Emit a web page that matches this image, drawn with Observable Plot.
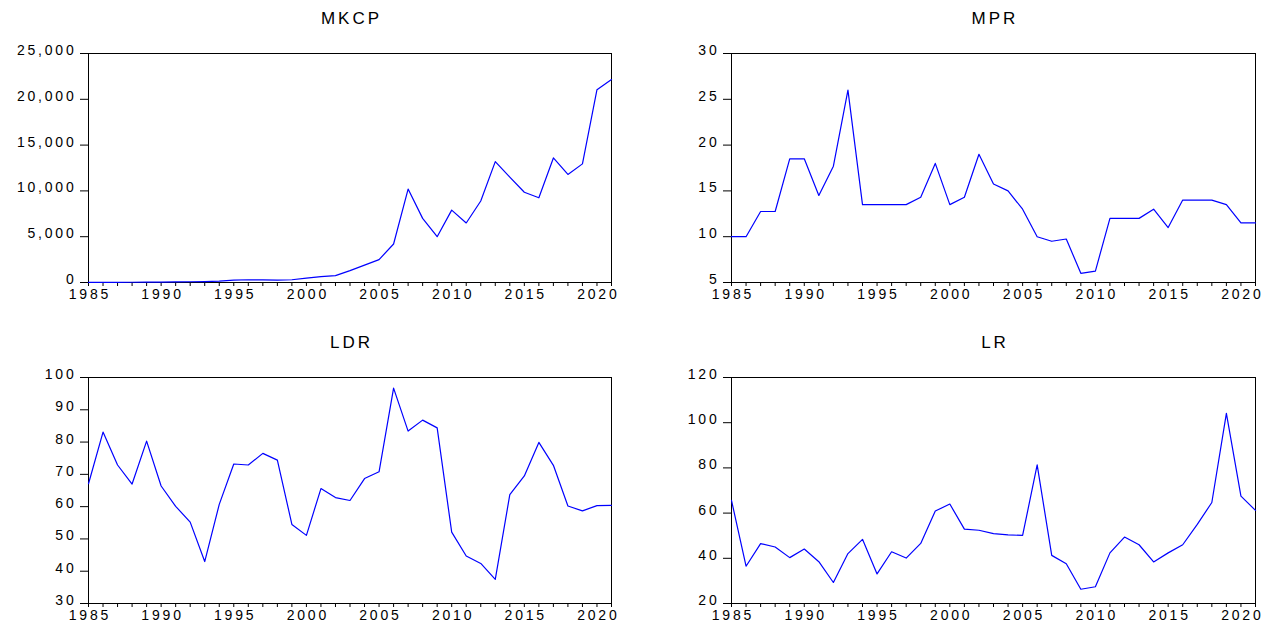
<!DOCTYPE html>
<html><head><meta charset="utf-8">
<script src="https://cdn.jsdelivr.net/npm/d3@7"></script>
<script src="https://cdn.jsdelivr.net/npm/@observablehq/plot@0.6"></script>
<style>
body{margin:0;background:#fff;}
#wrap{position:relative;width:1263px;height:626px;overflow:hidden;background:#fff;}
svg.panel{position:absolute;}
svg.panel text{letter-spacing:2.8px;}
svg.panel text.ttl{letter-spacing:3px;}
</style></head><body><div id="wrap"></div>
<script>
const years = [1985,1986,1987,1988,1989,1990,1991,1992,1993,1994,1995,1996,1997,1998,1999,2000,2001,2002,2003,2004,2005,2006,2007,2008,2009,2010,2011,2012,2013,2014,2015,2016,2017,2018,2019,2020,2021];
const xLabelYears = [1985,1990,1995,2000,2005,2010,2015,2020];

const mkcp = [10,15,20,25,40,50,60,80,100,140,250,300,290,270,300,480,650,750,1300,1900,2500,4200,10200,7000,5000,7900,6500,8900,13200,11500,9850,9250,13600,11800,12950,21050,22150];
const mpr  = [10,10,12.75,12.75,18.5,18.5,14.5,17.7,26,13.5,13.5,13.5,13.5,14.31,18,13.5,14.31,19,15.75,15,13,10,9.5,9.75,6,6.25,12,12,12,13,11,14,14,14,13.5,11.5,11.5];
const ldr  = [67.1,83.1,72.9,67,80.3,66.4,60.1,55.2,43,60.7,73.2,72.9,76.5,74.4,54.5,51.1,65.6,62.8,61.9,68.7,70.8,96.7,83.4,86.8,84.4,52.1,44.7,42.4,37.5,63.7,69.5,79.9,72.8,60.2,58.7,60.3,60.4];
const lr   = [65.6,36.5,46.5,45,40.3,44.1,38.5,29.3,42.1,48.4,33.1,42.9,40.1,46.6,60.9,64,52.9,52.4,50.9,50.4,50.1,81.3,41.3,37.6,26.3,27.4,42.4,49.4,46,38.4,42.4,46,55,64.7,104.1,67.5,61.2];

const titles = ["MKCP","MPR","LDR","LR"];
const mkcpTicks = [0,5000,10000,15000,20000,25000];
const mprTicks = [5,10,15,20,25,30];
const ldrTicks = [30,40,50,60,70,80,90,100];
const lrTicks = [20,40,60,80,100,120];

const wrap = document.getElementById("wrap");

function panel(title, values, yDomain, yTicks, yFormat, left, top, width, height, mL, mR, mT, mB) {
  const data = years.map((y, i) => ({year: y, value: values[i]}));
  const chart = Plot.plot({
    width, height,
    marginLeft: mL, marginRight: mR, marginTop: mT, marginBottom: mB,
    style: {fontFamily: "'Liberation Sans', Arial, sans-serif", fontSize: "14px", color: "#000", background: "#fff", overflow: "visible"},
    x: {domain: [1985, 2021]},
    y: {domain: yDomain},
    marks: [
      Plot.axisY({ticks: yTicks, tickSize: 8, tickFormat: () => "", label: null, stroke: "#000"}),
      Plot.axisY({ticks: yTicks, tickSize: 0, tickPadding: 12, tickFormat: yFormat, label: null, dy: -3}),
      Plot.axisX({ticks: years, tickSize: 4, tickFormat: () => "", label: null, stroke: "#000"}),
      Plot.axisX({ticks: xLabelYears, tickSize: 0, tickPadding: 7, tickFormat: d => String(d), label: null, dx: 1.4}),
      Plot.frame({stroke: "#000", strokeWidth: 1}),
      Plot.lineY(data, {x: "year", y: "value", stroke: "#0000ff", strokeWidth: 1.2}),
      Plot.text([title], {frameAnchor: "top", lineAnchor: "middle", dy: -35, dx: 1.5, text: d => d, fontSize: 17})
    ]
  });
  chart.classList.add("panel");
  chart.style.left = left + "px";
  chart.style.top = top + "px";
  chart.querySelectorAll("g[aria-label='text'] text").forEach(t => t.classList.add("ttl"));
  wrap.appendChild(chart);
}

const fmtComma = d3.format(",");
const fmtPlain = d => String(d);

panel(titles[0], mkcp, [0, 25000], mkcpTicks, fmtComma, 0, 0, 631, 313, 88, 20, 53, 31);
panel(titles[1], mpr, [5, 30], mprTicks, fmtPlain, 631, 0, 632, 313, 100, 8, 53, 31);
panel(titles[2], ldr, [30, 100], ldrTicks, fmtPlain, 0, 313, 631, 313, 88, 20, 64, 23);
panel(titles[3], lr, [20, 120], lrTicks, fmtPlain, 631, 313, 632, 313, 100, 8, 64, 23);
</script></body></html>
